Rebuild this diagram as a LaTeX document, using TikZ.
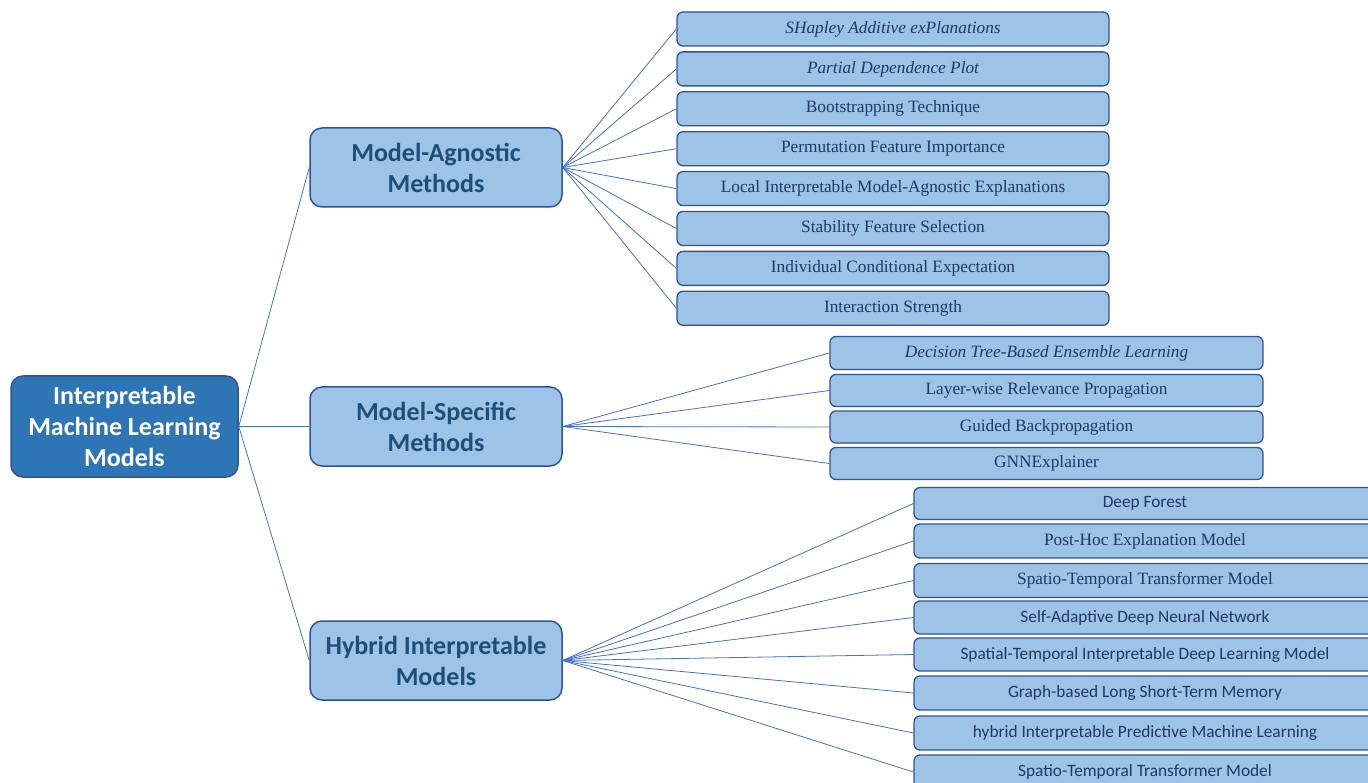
\documentclass[tikz,border=0pt]{standalone}
\usepackage{fontspec}
\setmainfont{Liberation Serif}
\newfontfamily\calibri{Carlito}
\usepackage{tikz}
\usetikzlibrary{positioning}
\definecolor{rootblue}{RGB}{46,117,182}
\definecolor{edgeblue}{RGB}{47,85,151}
\definecolor{paleblue}{RGB}{157,195,230}
\definecolor{inkblue}{RGB}{31,78,121}
\definecolor{leafink}{RGB}{32,56,100}
\definecolor{linkblue}{RGB}{68,114,196}

\begin{document}
\begin{tikzpicture}[x=1pt, y=-1pt,
        rootbox/.style={rectangle, draw=edgeblue, fill=rootblue, line width=1.5pt, rounded corners=12pt, minimum width=227pt, minimum height=101pt, align=center, text=white, font=\calibri\bfseries\fontsize{26}{31}\selectfont},
        branch/.style={rectangle, draw=edgeblue, fill=paleblue, line width=1.5pt, rounded corners=12pt, minimum width=252pt, minimum height=79pt, align=center, text=inkblue, font=\calibri\bfseries\fontsize{26}{31}\selectfont},
        leaf/.style={rectangle, draw=edgeblue, fill=paleblue, line width=1.3pt, rounded corners=6pt, minimum width=432pt, minimum height=34pt, inner sep=0pt, text=leafink, font=\fontsize{17.3}{20}\selectfont},
        leafsf/.style={leaf, font=\calibri\fontsize{17.3}{20}\selectfont},
        link/.style={draw=linkblue, line width=0.8pt}
    ]
    \useasboundingbox (0,0) rectangle (1368,783);
    % root and branches
    \node[rootbox] (iml) at (124.5,426.5) {Interpretable\\Machine Learning\\Models};
    \node[branch] (agnostic) at (436,167.5) {Model-Agnostic\\Methods};
    \node[branch] (specific) at (436,426.5) {Model-Specific\\Methods};
    \node[branch] (hybrid) at (436,660.5) {Hybrid Interpretable\\Models};
    % model-agnostic leaves
    \node[leaf] (shap) at (893,29) {\itshape SHapley Additive exPlanations};
    \node[leaf, below=4.6pt of shap] (pdp) {\itshape Partial Dependence Plot};
    \node[leaf, below=4.6pt of pdp] (boot) {Bootstrapping Technique};
    \node[leaf, below=4.6pt of boot] (pfi) {Permutation Feature Importance};
    \node[leaf, below=4.6pt of pfi] (lime) {Local Interpretable Model-Agnostic Explanations};
    \node[leaf, below=4.6pt of lime] (sfs) {Stability Feature Selection};
    \node[leaf, below=4.6pt of sfs] (ice) {Individual Conditional Expectation};
    \node[leaf, below=4.6pt of ice] (inter) {Interaction Strength};
    % model-specific leaves
    \node[leaf, minimum width=433pt, minimum height=33pt] (dtbel) at (1046.5,353) {\itshape Decision Tree-Based Ensemble Learning};
    \node[leaf, minimum width=433pt, minimum height=32pt, below=3.7pt of dtbel] (lrp) {Layer-wise Relevance Propagation};
    \node[leaf, minimum width=433pt, minimum height=32pt, below=3.2pt of lrp] (gbp) {Guided Backpropagation};
    \node[leaf, minimum width=433pt, minimum height=32pt, below=3.2pt of gbp] (gnnex) {GNNExplainer};
    % hybrid leaves
    \node[leafsf, minimum width=462pt, minimum height=32pt] (dforest) at (1145,503.5) {Deep Forest};
    \node[leaf, minimum width=462pt, below=3.2pt of dforest] (posthoc) {Post-Hoc Explanation Model};
    \node[leaf, minimum width=462pt, below=4.2pt of posthoc] (sttm) {Spatio-Temporal Transformer Model};
    \node[leafsf, minimum width=462pt, minimum height=33pt, below=2.2pt of sttm] (sadnn) {Self-Adaptive Deep Neural Network};
    \node[leafsf, minimum width=462pt, minimum height=33pt, below=2.7pt of sadnn] (stidl) {Spatial-Temporal Interpretable Deep Learning Model};
    \node[leafsf, minimum width=462pt, below=3.7pt of stidl] (glstm) {Graph-based Long Short-Term Memory};
    \node[leafsf, minimum width=462pt, below=4.7pt of glstm] (hipml) {hybrid Interpretable Predictive Machine Learning};
    \node[leafsf, minimum width=462pt, below=3.7pt of hipml] (sttm2) {Spatio-Temporal Transformer Model};
    % connectors
    \draw[link] (iml.east) -- (agnostic.west);
    \draw[link] (iml.east) -- (specific.west);
    \draw[link] (iml.east) -- (hybrid.west);
    \draw[link] (agnostic.east) -- (shap.west);
    \draw[link] (agnostic.east) -- (pdp.west);
    \draw[link] (agnostic.east) -- (boot.west);
    \draw[link] (agnostic.east) -- (pfi.west);
    \draw[link] (agnostic.east) -- (lime.west);
    \draw[link] (agnostic.east) -- (sfs.west);
    \draw[link] (agnostic.east) -- (ice.west);
    \draw[link] (agnostic.east) -- (inter.west);
    \draw[link] (specific.east) -- (dtbel.west);
    \draw[link] (specific.east) -- (lrp.west);
    \draw[link] (specific.east) -- (gbp.west);
    \draw[link] (specific.east) -- (gnnex.west);
    \draw[link] (hybrid.east) -- (dforest.west);
    \draw[link] (hybrid.east) -- (posthoc.west);
    \draw[link] (hybrid.east) -- (sttm.west);
    \draw[link] (hybrid.east) -- (sadnn.west);
    \draw[link] (hybrid.east) -- (stidl.west);
    \draw[link] (hybrid.east) -- (glstm.west);
    \draw[link] (hybrid.east) -- (hipml.west);
    \draw[link] (hybrid.east) -- (sttm2.west);
\end{tikzpicture}
\end{document}
